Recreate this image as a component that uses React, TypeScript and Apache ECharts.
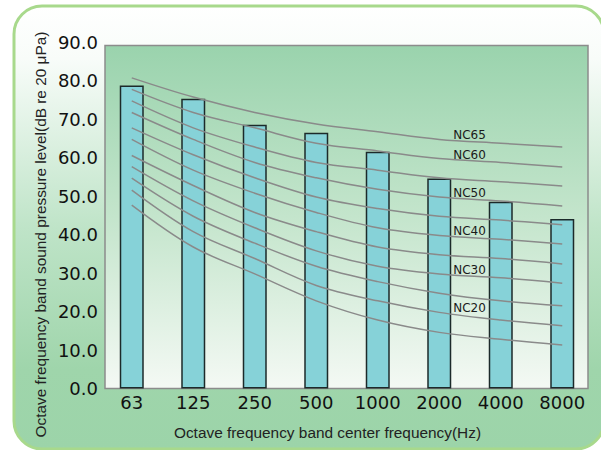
import React, { useEffect, useRef } from "react";
import * as echarts from "echarts";

const categories = ["63", "125", "250", "500", "1000", "2000", "4000", "8000"];
const measured = [78.8, 75.4, 68.6, 66.5, 61.6, 54.6, 48.6, 44.1];
const yTicks = [0, 10, 20, 30, 40, 50, 60, 70, 80, 90];

const nc65 = [80.8, 75.8, 71.8, 68.8, 66.8, 64.8, 63.8, 62.8];
const nc60 = [77.8, 71.8, 67.8, 63.8, 61.8, 59.8, 58.8, 57.6];
const nc55 = [74.8, 67.8, 62.8, 58.8, 56.8, 54.8, 53.8, 52.7];
const nc50 = [71.8, 64.8, 58.8, 54.8, 51.8, 49.8, 48.8, 47.5];
const nc45 = [67.8, 60.8, 54.8, 49.8, 46.8, 44.8, 43.8, 42.6];
const nc40 = [64.8, 56.8, 50.8, 45.8, 41.8, 39.8, 38.8, 37.6];
const nc35 = [60.6, 52.8, 45.8, 40.8, 36.8, 34.8, 33.8, 32.4];
const nc30 = [57.7, 48.8, 41.8, 35.8, 31.8, 29.8, 28.8, 27.4];
const nc25 = [54.7, 44.8, 37.8, 31.8, 27.8, 24.8, 22.8, 21.5];
const nc20 = [51.6, 40.8, 33.8, 26.8, 22.8, 19.8, 17.8, 16.3];
const nc15 = [47.7, 36.8, 29.8, 22.8, 17.8, 14.6, 12.8, 11.3];

const curves = [
  { name: "NC65", data: nc65, labelled: true },
  { name: "NC60", data: nc60, labelled: true },
  { name: "NC55", data: nc55, labelled: false },
  { name: "NC50", data: nc50, labelled: true },
  { name: "NC45", data: nc45, labelled: false },
  { name: "NC40", data: nc40, labelled: true },
  { name: "NC35", data: nc35, labelled: false },
  { name: "NC30", data: nc30, labelled: true },
  { name: "NC25", data: nc25, labelled: false },
  { name: "NC20", data: nc20, labelled: true },
  { name: "NC15", data: nc15, labelled: false },
];
const labelIndex = 5;

const yTitle = "Octave frequency band sound pressure level(dB re 20 μPa)";
const xTitle = "Octave frequency band center frequency(Hz)";

export default function App() {
  const ref = useRef<HTMLDivElement>(null);
  useEffect(() => {
    if (!ref.current) return;
    const chart = echarts.init(ref.current, null, { renderer: "svg" });
    const lineSeries = curves.map((c) => ({
      type: "line",
      name: c.name,
      data: c.data.map((v, i) =>
        c.labelled && i === labelIndex
          ? {
              value: v,
              label: {
                show: true,
                formatter: c.name,
                position: "right",
                distance: 5,
                offset: [9, -4],
                fontFamily: "DejaVu Sans",
                fontSize: 12,
                color: "#1a1a1a",
              },
            }
          : v
      ),
      smooth: 0.35,
      symbol: "circle",
      symbolSize: 0,
      showSymbol: true,
      lineStyle: { color: "#8a8a8a", width: 1.5 },
      itemStyle: { color: "#8a8a8a" },
      z: 3,
      silent: true,
    }));
    chart.setOption({
      animation: false,
      backgroundColor: "#ffffff",
      grid: { left: 101, right: 8, top: 42.5, bottom: 61.5 },
      xAxis: {
        type: "category",
        data: categories,
        boundaryGap: true,
        axisLine: { show: false },
        axisTick: { show: false },
        splitLine: { show: false },
        axisLabel: {
          fontFamily: "DejaVu Sans",
          fontSize: 18,
          color: "#111",
          margin: 5,
        },
      },
      yAxis: {
        type: "value",
        min: 0,
        max: 90,
        interval: 10,
        axisLine: { show: false },
        axisTick: { show: false },
        splitLine: { show: false },
        axisLabel: {
          fontFamily: "DejaVu Sans",
          fontSize: 18,
          color: "#111",
          margin: 3,
          formatter: (v: number) => (yTicks.includes(v) ? v.toFixed(1) : ""),
        },
      },
      graphic: [
        {
          type: "rect",
          z: -20,
          silent: true,
          shape: { x: 14, y: 6, width: 590, height: 443, r: 28 },
          style: {
            fill: {
              type: "linear",
              x: 0,
              y: 0,
              x2: 0,
              y2: 1,
              colorStops: [
                { offset: 0, color: "#ffffff" },
                { offset: 0.12, color: "#f8fcf9" },
                { offset: 0.5, color: "#bfe4c8" },
                { offset: 0.82, color: "#9fd5ab" },
                { offset: 1, color: "#9cd4a9" },
              ],
            },
            stroke: "#a8d98c",
            lineWidth: 3,
          },
        },
        {
          type: "rect",
          z: -10,
          silent: true,
          shape: { x: 105, y: 45.5, width: 483, height: 343 },
          style: {
            fill: {
              type: "linear",
              x: 0,
              y: 0,
              x2: 0,
              y2: 1,
              colorStops: [
                { offset: 0, color: "#9ad3ad" },
                { offset: 0.5, color: "#c4e5cc" },
                { offset: 1, color: "#f4f9f4" },
              ],
            },
            stroke: "#8c8c8c",
            lineWidth: 1.5,
          },
        },
        {
          type: "text",
          silent: true,
          x: 327.5,
          y: 432,
          style: {
            text: xTitle,
            fontFamily: "Liberation Sans",
            fontSize: 15.4,
            fill: "#222",
            align: "center",
            verticalAlign: "middle",
          },
        },
        {
          type: "text",
          silent: true,
          x: 40,
          y: 234.5,
          rotation: Math.PI / 2,
          style: {
            text: yTitle,
            fontFamily: "Liberation Sans",
            fontSize: 15.4,
            fill: "#222",
            align: "center",
            verticalAlign: "middle",
          },
        },
      ],
      series: [
        {
          type: "bar",
          name: "measured",
          data: measured,
          barWidth: 24,
          itemStyle: { color: "#86d2d8", borderColor: "#1c2a2a", borderWidth: 1.5 },
          z: 2,
          silent: true,
        },
        ...lineSeries,
      ],
    });
    return () => chart.dispose();
  }, []);
  return (
    <div
      ref={ref}
      style={{ position: "fixed", left: 0, top: 0, width: 601, height: 450 }}
    />
  );
}
